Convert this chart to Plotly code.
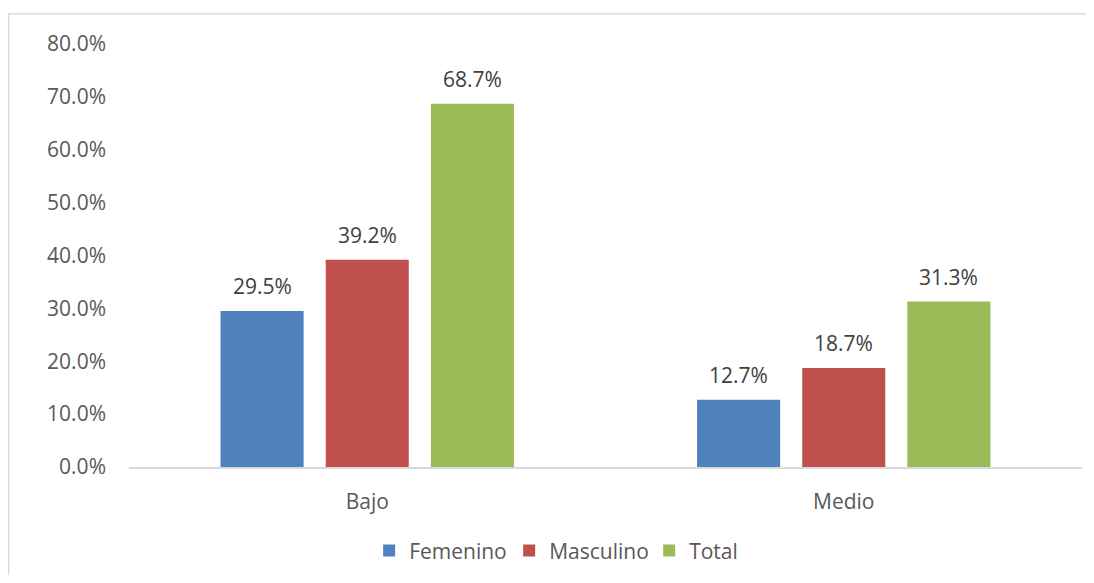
import plotly.graph_objects as go

categories = ["Bajo", "Medio"]
series_names = ["Femenino", "Masculino", "Total"]
femenino = [0.295, 0.127]
masculino = [0.392, 0.187]
total = [0.687, 0.313]
colors = ["#4F81BD", "#C0504D", "#9BBB59"]
y_ticks = [0.0, 0.1, 0.2, 0.3, 0.4, 0.5, 0.6, 0.7, 0.8]

values = [femenino, masculino, total]
FONT = "Open Sans"

fig = go.Figure()
for name, vals, col in zip(series_names, values, colors):
    fig.add_trace(go.Bar(
        name=name, x=categories, y=vals,
        marker=dict(color=col, line=dict(width=0)),
    ))

# data labels above bars
annotations = []
for i, vals in enumerate(values):
    for cat, v in zip(categories, vals):
        annotations.append(dict(
            x=cat, y=v, xref="x", yref="y",
            text=f"{v*100:.1f}%", showarrow=False,
            xshift=(i - 1) * 105, yshift=9, yanchor="bottom",
            font=dict(family=FONT, size=21, color="#404040"),
        ))

# page body has an 8px margin; the figure is sized / offset to compensate
fig.update_layout(
    width=1078, height=567,
    margin=dict(l=121, r=4, t=36, b=106),
    paper_bgcolor="white", plot_bgcolor="white",
    barmode="group", bargap=0.338, bargroupgap=0.21,
    font=dict(family=FONT, size=21, color="#595959"),
    showlegend=True,
    legend=dict(orientation="h", x=0.252, xanchor="left", y=-0.198, yanchor="middle",
                font=dict(family=FONT, size=21, color="#595959"),
                entrywidth=95, itemsizing="constant", traceorder="normal"),
    annotations=annotations,
    shapes=[dict(type="rect", xref="paper", yref="paper",
                 x0=(0.5 - 121) / 953, x1=(1100 - 121) / 953,
                 y0=(461 - 600) / 425, y1=(461 - 5.5) / 425,
                 line=dict(color="#D9D9D9", width=1.5), fillcolor="rgba(0,0,0,0)", layer="below")],
)
fig.update_yaxes(range=[0, 0.8], tickvals=y_ticks, tickformat=".1%", showgrid=False,
                 zeroline=False, showline=False, ticks="", ticklabelstandoff=22,
                 tickfont=dict(family=FONT, size=21, color="#595959"))
fig.update_xaxes(showline=True, linecolor="#D9D9D9", linewidth=1.5, ticks="",
                 showgrid=False, ticklabelstandoff=15,
                 tickfont=dict(family=FONT, size=21, color="#595959"))

fig.write_html("out.html")
